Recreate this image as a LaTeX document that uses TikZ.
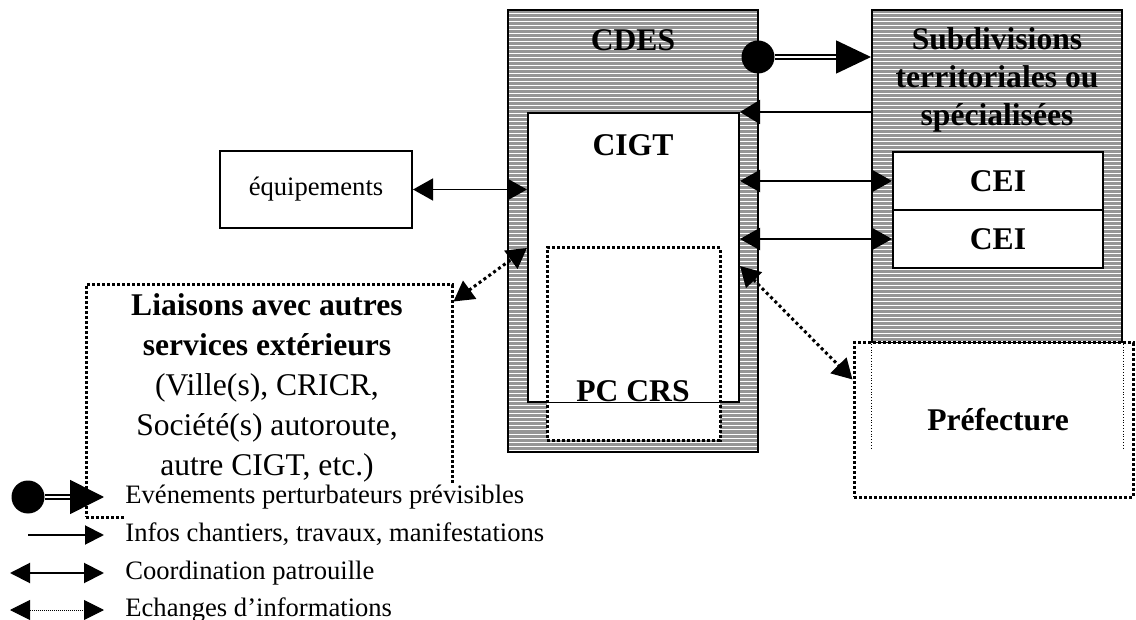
\documentclass[tikz,border=0pt]{standalone}
\usepackage{fontspec}
\setmainfont{Liberation Serif}
\usetikzlibrary{arrows.meta}
\definecolor{stripegray}{RGB}{150,150,150}
\begin{document}
\begin{tikzpicture}[x=0.5pt,y=-0.5pt,
    box/.style={draw, line width=1pt, fill=white, inner sep=0pt},
    hatched/.style={draw, line width=1pt, fill=stripegray, inner sep=0pt,
      path picture={\foreach \k in {1,...,115}
        \draw[white, line width=0.5pt] ([yshift=-\k*2pt]path picture bounding box.north west) -- ([yshift=-\k*2pt]path picture bounding box.north east);}},
    dotbox/.style={draw, line width=1.5pt, dash pattern=on 1.5pt off 1pt, fill=white, inner sep=0pt},
    title/.style={font=\fontsize{15.8}{18.8}\selectfont\bfseries, align=center},
    legend/.style={font=\fontsize{13.3}{16}\selectfont, anchor=base west, inner sep=0pt, fill=white, text height=9.5pt, text depth=8pt},
    tip/.style={-{Triangle[length=10pt,width=12pt]}},
    tips/.style={{Triangle[length=10pt,width=11pt]}-{Triangle[length=10pt,width=11pt]}},
    dbl/.style={double, double distance=1pt, line width=0.8pt, -{Triangle[length=17.5pt,width=16.5pt]}},
    echange/.style={line width=1.5pt, dash pattern=on 1.5pt off 1.5pt, tips},
    bigdot/.style={circle, fill, inner sep=0pt, minimum size=16.5pt}]
  \useasboundingbox (0,0) rectangle (1136,620);

  \node[hatched, minimum width=125pt, minimum height=221pt] (cdes) at (633,231) {};
  \node[title] (cdeslabel) at (633,40) {CDES};
  \node[box, minimum width=105.5pt, minimum height=144.5pt] (cigt) at (633.5,257.5) {};
  \node[title] (cigtlabel) at (633,145) {CIGT};
  \node[dotbox, minimum width=86.5pt, minimum height=96pt] (pccrs) at (633.5,344) {};
  \draw[line width=0.5pt] (pccrs.west |- cigt.south) -- (pccrs.east |- cigt.south);
  \node[title] (pclabel) at (633,391) {PC CRS};

  \node[hatched, minimum width=125pt, minimum height=166.5pt] (sub) at (997,176.5) {};
  \node[title] (sublabel) at (997,80) {Subdivisions\\territoriales ou\\spécialisées};
  \node[box, title, minimum width=105pt, minimum height=29pt] (cei1) at (998,181) {CEI};
  \node[box, title, minimum width=105pt, minimum height=29pt] (cei2) at (998,239) {CEI};
  \node[dotbox, minimum width=139.5pt, minimum height=77pt] (pref) at (993.5,420) {};
  \draw[densely dotted, line width=0.4pt] (sub.south west) -- ++(0,106);
  \draw[densely dotted, line width=0.4pt] (sub.south east) -- ++(0,106);
  \node[title] (preflabel) at (998,420) {Préfecture};

  \node[box, minimum width=96pt, minimum height=38.5pt, font=\fontsize{13.3}{16}\selectfont] (equip) at (316,189.5) {équipements};
  \node[dotbox, minimum width=183pt, minimum height=116pt] (liais) at (269,401) {};
  \node[align=center, font=\fontsize{15.8}{20}\selectfont] (liaistext) at (267,388)
    {\textbf{Liaisons avec autres}\\\textbf{services extérieurs}\\(Ville(s), CRICR,\\Société(s) autoroute,\\autre CIGT, etc.)};

  \node[bigdot] (dot) at (758,57) {};
  \draw[dbl] (dot.east) -- (sub.west |- dot);
  \draw[line width=1pt, tip] (sub.west |- cigt.north east) -- (cigt.north east);
  \draw[line width=1pt, tips] (cigt.east |- cei1) -- (cei1.west);
  \draw[line width=1pt, tips] (cigt.east |- cei2) -- (cei2.west);
  \draw[line width=0.7pt, tips] (equip.east) -- (cigt.west |- equip.east);
  \draw[echange] ([yshift=-9pt]liais.north east) -- ([yshift=-68pt]cigt.north west);
  \draw[echange] ([yshift=-77pt]cigt.north east) -- ([yshift=-19pt]pref.north west);

  \node[legend] (lg1) at (125,503) {Evénements perturbateurs prévisibles};
  \node[legend] (lg2) at (125,541) {Infos chantiers, travaux, manifestations};
  \node[legend] (lg3) at (125,579) {Coordination patrouille};
  \node[legend] (lg4) at (125,616) {Echanges d’informations};
  \node[bigdot] (kdot) at (28,497) {};
  \coordinate (k1) at (104,497);
  \draw[dbl, -{Triangle[length=17pt,width=17pt]}] (kdot.east) -- (k1);
  \coordinate (k2a) at (28,535);
  \coordinate (k2) at (104,535);
  \draw[line width=1pt, -{Triangle[length=9.5pt,width=9.5pt]}] (k2a) -- (k2);
  \coordinate (k3a) at (10,573);
  \coordinate (k3) at (104,573);
  \draw[line width=1pt, {Triangle[length=10pt,width=10pt]}-{Triangle[length=10pt,width=10pt]}] (k3a) -- (k3);
  \coordinate (k4a) at (10,610);
  \coordinate (k4) at (104,610);
  \draw[line width=0.5pt, dash pattern=on 0.5pt off 0.5pt, {Triangle[length=10pt,width=10pt]}-{Triangle[length=10pt,width=10pt]}] (k4a) -- (k4);
\end{tikzpicture}
\end{document}
